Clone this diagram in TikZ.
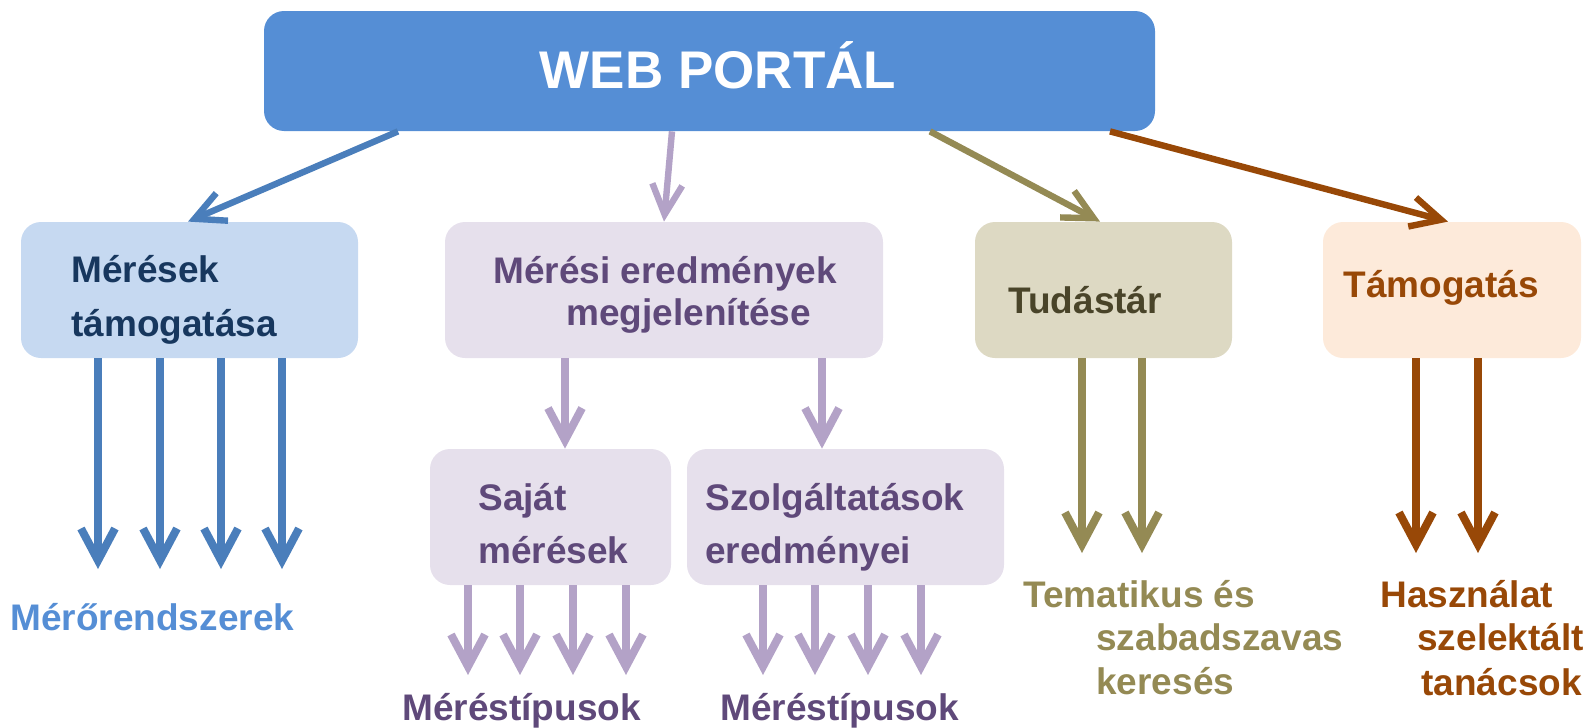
\documentclass[tikz,border=0pt]{standalone}
\usepackage{fontspec}
\setmainfont{Liberation Sans}
\usepackage{xcolor}
\usetikzlibrary{arrows.meta,positioning,calc}

\definecolor{portalblue}{HTML}{558ED5}
\definecolor{arrowblue}{HTML}{4A7EBB}
\definecolor{paleblue}{HTML}{C6D9F1}
\definecolor{navytext}{HTML}{17375E}
\definecolor{palelilac}{HTML}{E6E0EC}
\definecolor{lilacarrow}{HTML}{B3A2C7}
\definecolor{plumtext}{HTML}{5F497A}
\definecolor{palekhaki}{HTML}{DDD9C3}
\definecolor{khakiarrow}{HTML}{948A54}
\definecolor{khakitext}{HTML}{494429}
\definecolor{palepeach}{HTML}{FDEADA}
\definecolor{rust}{HTML}{984807}

\begin{document}
\begin{tikzpicture}[x=0.5pt,y=-0.5pt,
    box/.style={rounded corners=10pt, inner sep=0pt},
    txt/.style={anchor=base west, inner sep=0pt, font=\fontsize{18.5}{22}\selectfont\bfseries},
    down/.style={line width=4pt, -{Straight Barb[length=16pt,width=17pt]}},
    slant/.style={line width=3.2pt, -{Straight Barb[length=15pt,width=15pt]}}]
    \useasboundingbox (0,0) rectangle (1591,728);

    % Boxes
    \node[box, fill=portalblue, minimum width=445.5pt, minimum height=60pt] (portal) at (709.5,71) {};
    \node[box, fill=paleblue, minimum width=168.5pt, minimum height=68pt] (meresek) at (189.5,290) {};
    \node[box, fill=palelilac, minimum width=219pt, minimum height=68pt] (eredmeny) at (664,290) {};
    \node[box, fill=palelilac, minimum width=120.5pt, minimum height=68pt] (sajat) at (550.5,517) {};
    \node[box, fill=palelilac, minimum width=158.5pt, minimum height=68pt] (szolg) at (845.5,517) {};
    \node[box, fill=palekhaki, minimum width=128.5pt, minimum height=68pt] (tudas) at (1103.5,290) {};
    \node[box, fill=palepeach, minimum width=129pt, minimum height=68pt] (tamog) at (1452,290) {};

    % Texts in the boxes
    \node[anchor=base, inner sep=0pt, text=white, font=\fontsize{26.5}{30}\selectfont\bfseries] (portal-t) at (718,88) {WEB PORTÁL};
    \node[txt, text=navytext] (meresek-t1) at (71,282) {Mérések};
    \node[txt, text=navytext] (meresek-t2) at (71,336) {támogatása};
    \node[txt, text=plumtext] (eredmeny-t1) at (493,283) {Mérési eredmények};
    \node[txt, text=plumtext] (eredmeny-t2) at (566,325) {megjelenítése};
    \node[txt, text=plumtext] (sajat-t1) at (478,510) {Saját};
    \node[txt, text=plumtext] (sajat-t2) at (478,563) {mérések};
    \node[txt, text=plumtext] (szolg-t1) at (705,510) {Szolgáltatások};
    \node[txt, text=plumtext] (szolg-t2) at (705,563) {eredményei};
    \node[txt, text=khakitext] (tudas-t) at (1008,313) {Tudástár};
    \node[txt, text=rust] (tamog-t) at (1343,297) {Támogatás};

    % Free labels
    \node[txt, text=portalblue] (rendszer) at (10,630) {Mérőrendszerek};
    \node[txt, text=plumtext] (tipus1) at (402,720) {Méréstípusok};
    \node[txt, text=plumtext] (tipus2) at (720,720) {Méréstípusok};
    \node[txt, text=khakiarrow] (kereses1) at (1023,607) {Tematikus és};
    \node[txt, text=khakiarrow] (kereses2) at (1096,650) {szabadszavas};
    \node[txt, text=khakiarrow] (kereses3) at (1096,694) {keresés};
    \node[txt, text=rust] (tanacs1) at (1380,607) {Használat};
    \node[txt, text=rust] (tanacs2) at (1417,650) {szelektált};
    \node[txt, text=rust] (tanacs3) at (1421,695) {tanácsok};

    % Arrows from the portal
    \draw[slant, arrowblue] (portal.south -| 398,0) -- (meresek.north -| 188,0);
    \draw[slant, lilacarrow] (portal.south -| 672,0) -- (eredmeny.north -| 664,0);
    \draw[slant, khakiarrow] (portal.south -| 930,0) -- (tudas.north -| 1100,0);
    \draw[slant, rust] (portal.south -| 1110,0) -- (tamog.north -| 1448,0);

    % Arrows down
    \foreach \x in {98,160,221,282}
        \draw[down, arrowblue] (meresek.south -| \x,0) -- (\x,569);
    \draw[down, lilacarrow] (eredmeny.south -| 565,0) -- (sajat.north -| 565,0);
    \draw[down, lilacarrow] (eredmeny.south -| 822,0) -- (szolg.north -| 822,0);
    \foreach \x in {468,520,573,626}
        \draw[down, lilacarrow] (sajat.south -| \x,0) -- (\x,675);
    \foreach \x in {763,815,868,921}
        \draw[down, lilacarrow] (szolg.south -| \x,0) -- (\x,675);
    \foreach \x in {1082,1142}
        \draw[down, khakiarrow] (tudas.south -| \x,0) -- (\x,553);
    \foreach \x in {1416,1478}
        \draw[down, rust] (tamog.south -| \x,0) -- (\x,553);
\end{tikzpicture}
\end{document}
